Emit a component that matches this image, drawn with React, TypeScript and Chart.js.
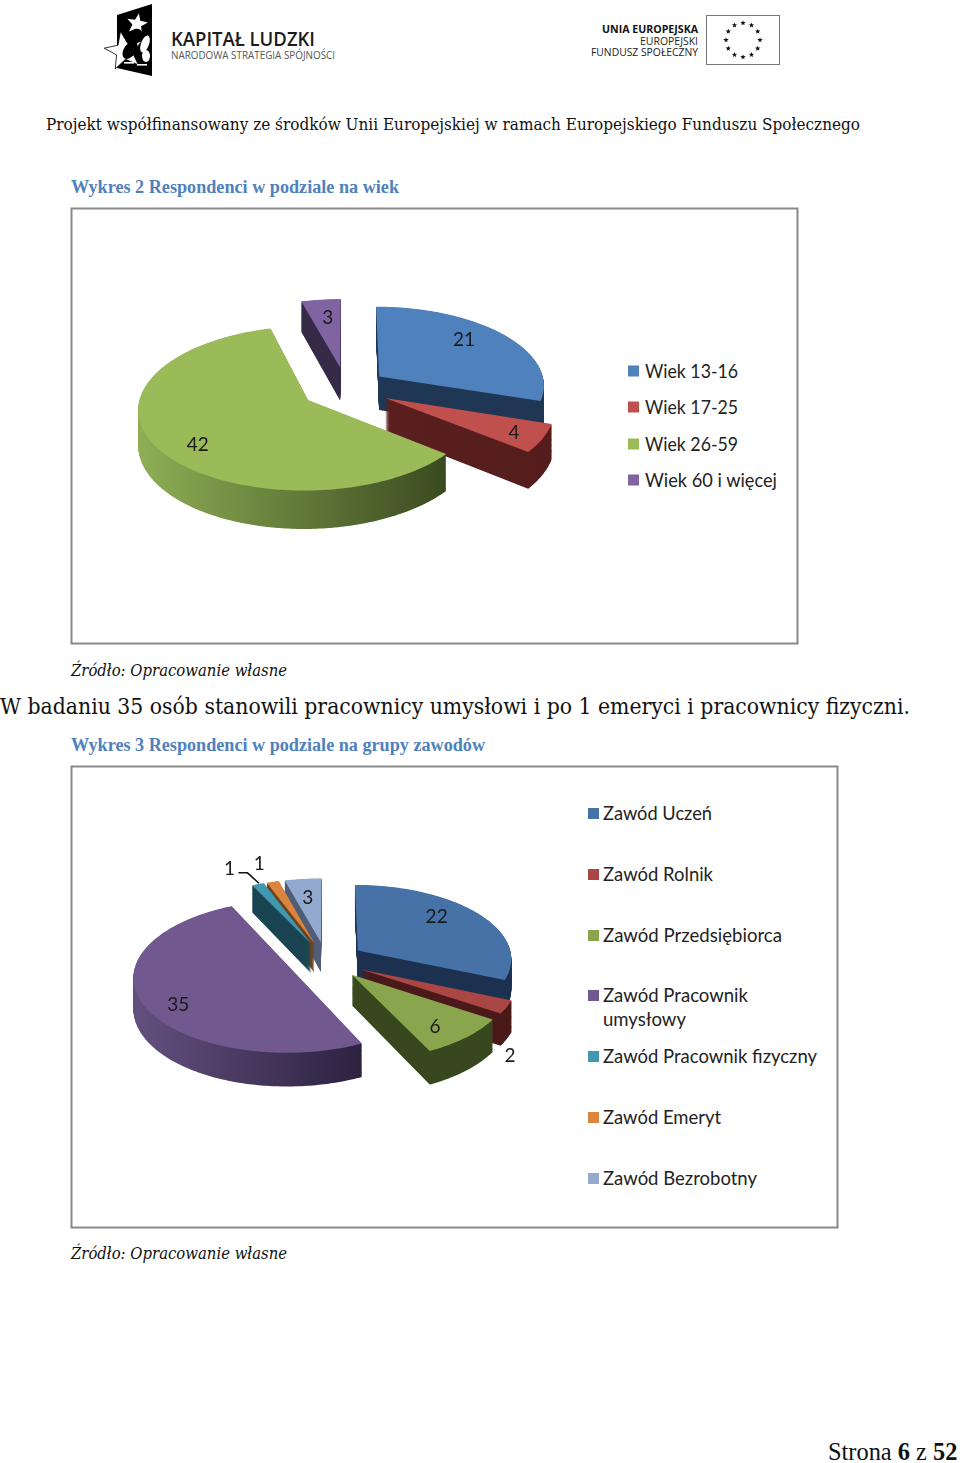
import React, { useEffect, useRef } from "react";
import { Chart, registerables } from "chart.js";

Chart.register(...registerables);

// ---- data ----
const ageCategories = ["Wiek 13-16", "Wiek 17-25", "Wiek 26-59", "Wiek 60 i więcej"];
const ageValues = [21, 4, 42, 3];
const jobCategories = [
  "Zawód Uczeń",
  "Zawód Rolnik",
  "Zawód Przedsiębiorca",
  "Zawód Pracownik umysłowy",
  "Zawód Pracownik fizyczny",
  "Zawód Emeryt",
  "Zawód Bezrobotny",
];
const jobValues = [22, 2, 6, 35, 1, 1, 3];

// ---- styles ----
const ageTop = ["#4F81BD", "#C0504D", "#9BBB59", "#8064A2"];
const ageWall = [
  ["#1F3655", "#1F3655"],
  ["#5A1F1E", "#541D1C"],
  ["#8FAE55", "#3A4A20"],
  ["#352A48", "#352A48"],
];
const ageExplode = [0.25, 0.265, 0.27, 0.27];
const ageOrder = [3, 0, 1, 2];
const ageLabelPolar = [[0.76, -7], [0.825, 0], [0.79, -6], [0.73, 1]];

const jobTop = ["#4672A8", "#AA4643", "#89A54E", "#71588F", "#4198AF", "#DB843D", "#93A9CF"];
const jobWall = [
  ["#1C3050", "#1C3050"],
  ["#4A1A1A", "#4A1A1A"],
  ["#38481E", "#38481E"],
  ["#64507F", "#2C2240"],
  ["#1A4452", "#1A4452"],
  ["#6E421C", "#6E421C"],
  ["#4F5D78", "#4F5D78"],
];
const jobExplode = [0.25, 0.25, 0.25, 0.25, 0.25, 0.25, 0.25];
const jobOrder = [0, 1, 2, 6, 5, 4, 3];
const jobLabelPolar = [[0.75, -9], [1.31, 22], [0.784, 3], [0.807, -7], [1.35, -4], [1.36, 0], [0.71, 0]];

const LATO = "Lato, sans-serif";
const SERIF = "'DejaVu Serif', serif";
const TIMES = "'Liberation Serif', serif";
const OPEN = "'Open Sans', sans-serif";

const pie3d = {
  id: "pie3d",
  beforeDatasetsDraw(chart: any, _args: any, opts: any) {
    const ctx = chart.ctx;
    const arcs = chart.getDatasetMeta(0).data;
    const B = 0.1;
    const project = (arc: any, nx: number, ny: number, down: number) => {
      const f = 1 / (1 - B * ny);
      return [
        arc.x + arc.outerRadius * nx * f,
        arc.y + opts.squash * ny * f + down * f,
      ];
    };
    const outline = (arc: any, i: number, down: number) => {
      const mid = (arc.startAngle + arc.endAngle) / 2;
      const ex = opts.explode[i] * Math.cos(mid);
      const ey = opts.explode[i] * Math.sin(mid);
      const pts = [project(arc, ex, ey, down)];
      const steps = Math.max(2, Math.ceil((arc.endAngle - arc.startAngle) * 60));
      for (let s = 0; s <= steps; s++) {
        const t = arc.startAngle + ((arc.endAngle - arc.startAngle) * s) / steps;
        pts.push(project(arc, ex + Math.cos(t), ey + Math.sin(t), down));
      }
      return pts;
    };
    const fill = (pts: number[][], style: any) => {
      ctx.beginPath();
      pts.forEach((p, k) => (k ? ctx.lineTo(p[0], p[1]) : ctx.moveTo(p[0], p[1])));
      ctx.closePath();
      ctx.fillStyle = style;
      ctx.fill();
    };
    opts.order.forEach((i: number) => {
      const arc = arcs[i];
      const top = outline(arc, i, 0);
      const xs = top.map((p) => p[0]);
      const g = ctx.createLinearGradient(Math.min(...xs), 0, Math.max(...xs), 0);
      g.addColorStop(0, opts.wall[i][0]);
      g.addColorStop(1, opts.wall[i][1]);
      for (let d = opts.depth; d > 0; d -= 0.5) fill(outline(arc, i, d), g);
      fill(top, arc.options.backgroundColor);
    });
    // value labels
    ctx.fillStyle = "#1a1a1a";
    ctx.font = `19px ${LATO}`;
    ctx.textAlign = "center";
    ctx.textBaseline = "middle";
    const values = chart.data.datasets[0].data;
    arcs.forEach((arc: any, i: number) => {
      const mid = (arc.startAngle + arc.endAngle) / 2;
      const a = mid + (opts.labelPolar[i][1] * Math.PI) / 180;
      const r = opts.labelPolar[i][0];
      const nx = opts.explode[i] * Math.cos(mid) + r * Math.cos(a);
      const ny = opts.explode[i] * Math.sin(mid) + r * Math.sin(a);
      const p = project(arc, nx, ny, 0);
      ctx.fillText(String(values[i]), p[0], p[1] + 1.5);
      if (opts.leader === i) {
        const ex = opts.explode[i] * Math.cos(mid) + Math.cos(mid);
        const ey = opts.explode[i] * Math.sin(mid) + Math.sin(mid);
        const q = project(arc, ex, ey, 0);
        ctx.strokeStyle = "#111";
        ctx.lineWidth = 1.5;
        ctx.beginPath();
        ctx.moveTo(p[0] + 9, p[1] + 5);
        ctx.lineTo(p[0] + 18, p[1] + 5);
        ctx.lineTo(q[0] + 1, q[1] - 1);
        ctx.stroke();
      }
    });
    return false;
  },
};

function Pie3D(props: any) {
  const ref = useRef<HTMLCanvasElement>(null);
  useEffect(() => {
    const chart = new Chart(ref.current as any, {
      type: "pie",
      data: {
        labels: props.labels,
        datasets: [{ data: props.values, backgroundColor: props.top, borderWidth: 0 }],
      },
      options: {
        animation: false,
        responsive: false,
        events: [],
        radius: props.radius,
        layout: { padding: props.padding },
        plugins: {
          legend: { display: false },
          tooltip: { enabled: false },
          pie3d: {
            explode: props.explode,
            wall: props.wall,
            order: props.order,
            depth: props.depth,
            squash: props.squash,
            labelPolar: props.labelPolar,
            leader: props.leader,
          },
        },
      } as any,
      plugins: [pie3d as any],
    });
    return () => chart.destroy();
  }, []);
  return (
    <canvas
      ref={ref}
      width={props.w}
      height={props.h}
      style={{ position: "absolute", left: props.x, top: props.y, width: props.w, height: props.h }}
    />
  );
}

function T(p: any) {
  const { x, y, w, size, font, children, ...rest } = p;
  return (
    <text x={x} y={y} textLength={w} lengthAdjust="spacingAndGlyphs" fontSize={size} fontFamily={font} {...rest}>
      {children}
    </text>
  );
}

function starPoints(cx: number, cy: number, r: number, rot = -90) {
  const pts: string[] = [];
  for (let i = 0; i < 10; i++) {
    const rr = i % 2 ? r * 0.42 : r;
    const a = ((rot + i * 36) * Math.PI) / 180;
    pts.push(`${(cx + rr * Math.cos(a)).toFixed(1)},${(cy + rr * Math.sin(a)).toFixed(1)}`);
  }
  return pts.join(" ");
}

const euStars = Array.from({ length: 12 }, (_, i) => (i * 30 * Math.PI) / 180);

const ageLegendY = [371, 407, 444, 480];
const ageLegendW = [93, 93, 93, 132];
const jobLegendY = [813.5, 874.5, 935.5, 995.5, 1056.5, 1117.5, 1178.5];
const jobLegendW = [109, 110, 179, 145, 214, 118, 154];

export default function App() {
  return (
    <div style={{ position: "absolute", left: 0, top: 0, width: 960, height: 1463, overflow: "hidden", background: "#fff" }}>
      <svg width={960} height={1463} style={{ position: "absolute", left: 0, top: 0 }}>
        {/* logo left */}
        <polygon points="117,15 152,4 152,76 117,68" fill="#000" />
        <polygon points={starPoints(137, 24, 11, -80)} fill="#fff" />
        <polygon points={starPoints(124, 51, 20, -100)} fill="#fff" stroke="#000" strokeWidth={0.8} />
        <ellipse cx={135} cy={37} rx={6} ry={9} fill="#000" transform="rotate(35 135 37)" />
        <ellipse cx={130} cy={50} rx={6} ry={10} fill="#000" transform="rotate(35 130 50)" />
        <ellipse cx={145} cy={44} rx={4} ry={9} fill="#fff" transform="rotate(20 145 44)" />
        <ellipse cx={146} cy={56} rx={4} ry={6} fill="#fff" />
        <rect x={124} y={62} width={10} height={1.6} fill="#fff" />
        <rect x={137} y={64} width={10} height={1.6} fill="#fff" />
        <T x={171} y={46} w={144} size={20} font={OPEN} fill="#1c1c1c" fontWeight={600}>KAPITAŁ LUDZKI</T>
        <T x={171} y={59} w={164} size={11} font={OPEN} fill="#555">NARODOWA STRATEGIA SPÓJNOŚCI</T>

        {/* logo right */}
        <T x={602} y={33} w={96} size={11} font={OPEN} fill="#111" fontWeight={700}>UNIA EUROPEJSKA</T>
        <T x={640} y={45} w={58} size={10.5} font={OPEN} fill="#222">EUROPEJSKI</T>
        <T x={591} y={56} w={107} size={10.5} font={OPEN} fill="#222">FUNDUSZ SPOŁECZNY</T>
        <rect x={706.5} y={15.5} width={73} height={49} fill="#fff" stroke="#777" strokeWidth={1} />
        {euStars.map((a, i) => (
          <polygon key={i} points={starPoints(743 + 17 * Math.sin(a), 40 - 17 * Math.cos(a), 2.8)} fill="#111" />
        ))}

        <T x={46} y={130} w={814} size={17} font={SERIF} fill="#111">
          Projekt współfinansowany ze środków Unii Europejskiej w ramach Europejskiego Funduszu Społecznego
        </T>

        <T x={71} y={193} w={328} size={18.5} font={TIMES} fill="#4F81BD" fontWeight={700}>
          Wykres 2 Respondenci w podziale na wiek
        </T>
        <rect x={71.5} y={208.5} width={726} height={435} fill="#fff" stroke="#8a8a8a" strokeWidth={2} />
        {ageCategories.map((c, i) => (
          <g key={c}>
            <rect x={628} y={ageLegendY[i] - 5.5} width={11} height={11} fill={ageTop[i]} />
            <T x={645} y={ageLegendY[i] + 6.5} w={ageLegendW[i]} size={19} font={LATO} fill="#222">{c}</T>
          </g>
        ))}

        <T x={71} y={676} w={216} size={16.5} font={SERIF} fontStyle="italic" fill="#111">
          Źródło: Opracowanie własne
        </T>
        <T x={0} y={714} w={910} size={22} font={SERIF} fill="#111">
          W badaniu 35 osób stanowili pracownicy umysłowi i po 1 emeryci i pracownicy fizyczni.
        </T>
        <T x={71} y={751} w={414} size={18.5} font={TIMES} fill="#4F81BD" fontWeight={700}>
          Wykres 3 Respondenci w podziale na grupy zawodów
        </T>
        <rect x={71.5} y={766.5} width={766} height={461} fill="#fff" stroke="#8a8a8a" strokeWidth={2} />
        {jobCategories.map((c, i) => {
          const wrapped = c === "Zawód Pracownik umysłowy";
          return (
            <g key={c}>
              <rect x={588} y={jobLegendY[i] - 5.5} width={11} height={11} fill={jobTop[i]} />
              <T x={603} y={jobLegendY[i] + 6.5} w={jobLegendW[i]} size={19} font={LATO} fill="#222">
                {wrapped ? "Zawód Pracownik" : c}
              </T>
              {wrapped && (
                <T x={603} y={jobLegendY[i] + 30.5} w={83} size={19} font={LATO} fill="#222">umysłowy</T>
              )}
            </g>
          );
        })}
        <T x={71} y={1259} w={216} size={16.5} font={SERIF} fontStyle="italic" fill="#111">
          Źródło: Opracowanie własne
        </T>

        <text x={828} y={1460} fontSize={24.4} fontFamily={TIMES} fill="#111">
          Strona <tspan fontWeight={700}>6</tspan> z <tspan fontWeight={700}>52</tspan>
        </text>
      </svg>

      <Pie3D
        x={71} y={208} w={727} h={436}
        labels={ageCategories} values={ageValues} top={ageTop} wall={ageWall}
        explode={ageExplode} order={ageOrder} labelPolar={ageLabelPolar}
        radius={166} squash={79} depth={34} padding={{ right: 177, bottom: 76 }}
      />
      <Pie3D
        x={71} y={766} w={767} h={462}
        labels={jobCategories} values={jobValues} top={jobTop} wall={jobWall}
        explode={jobExplode} order={jobOrder} labelPolar={jobLabelPolar} leader={4}
        radius={154.5} squash={74} depth={30} padding={{ right: 257, bottom: 73 }}
      />
    </div>
  );
}
